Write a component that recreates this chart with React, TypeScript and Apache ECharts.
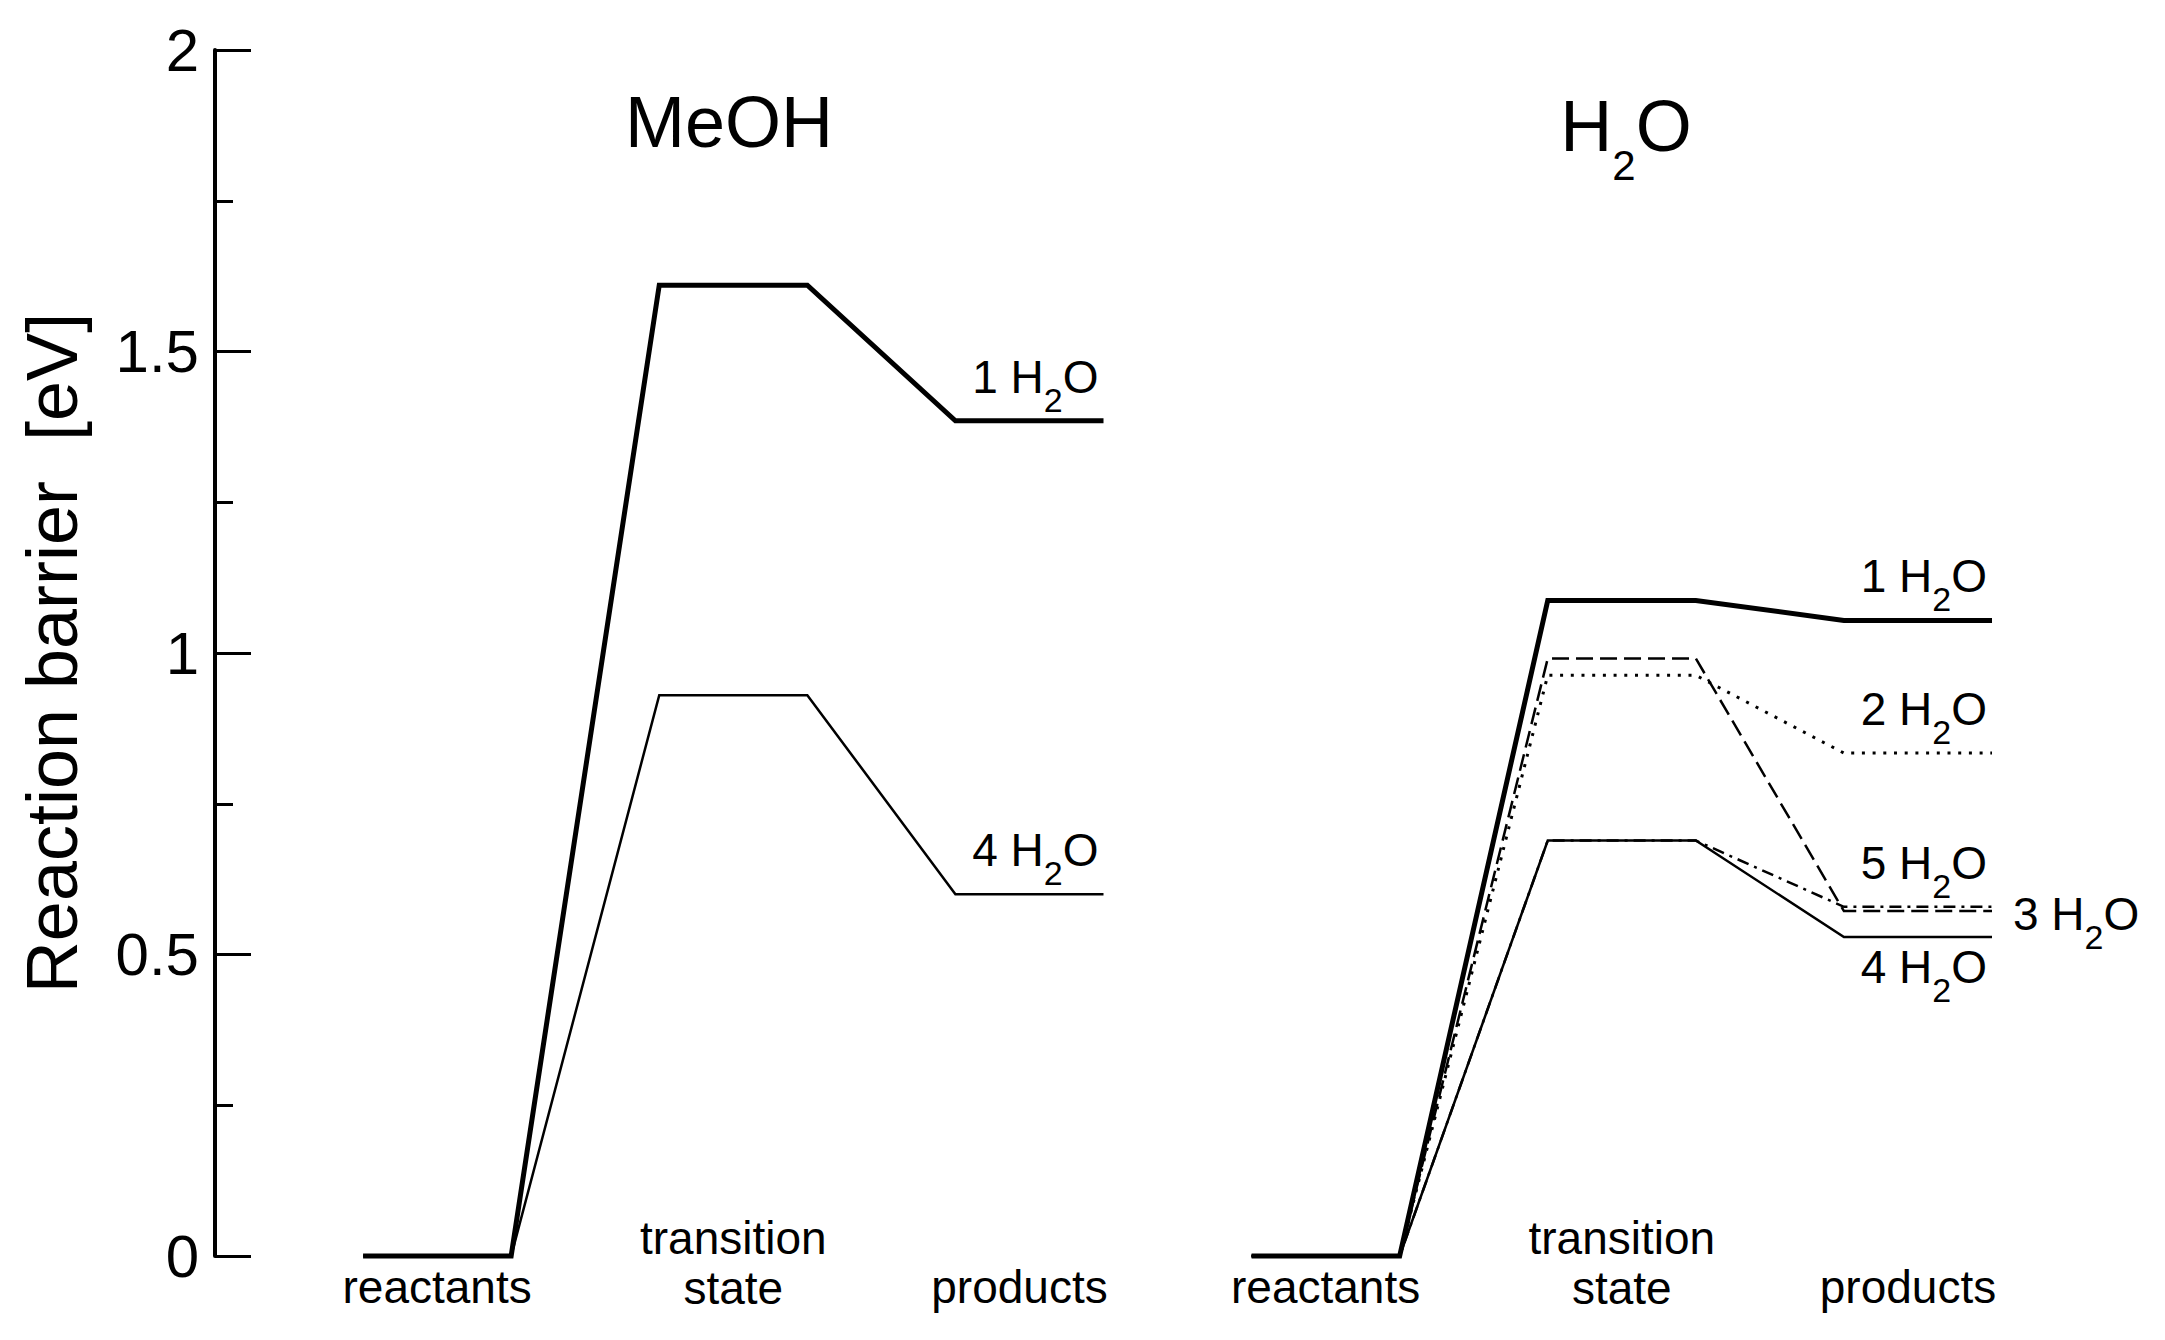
import React, { useEffect, useRef } from "react";
import * as echarts from "echarts";

const FONT = '"Liberation Sans", Arial, Helvetica, sans-serif';

// ---- data ----
const stageNames = ["reactants", "transition\nstate", "products"];
const panelTitles = ["MeOH", "H2O"];
const yTicks = [0, 0.5, 1, 1.5, 2];
const yTitle = "Reaction barrier\u00a0 [eV]";

// barriers [reactants, transition state, products] in eV
const meoh1 = [0, 1.61, 1.385];
const meoh4 = [0, 0.93, 0.6];
const water1 = [0, 1.087, 1.054];
const water2 = [0, 0.963, 0.834];
const water3 = [0, 0.991, 0.572];
const water4 = [0, 0.689, 0.529];
const water5 = [0, 0.689, 0.579];

// each stage level occupies one x-unit, separated by one unit; the right panel starts at 6
const panelOffsets = [0, 6];

function profile(values: number[], panel: number): number[][] {
  const off = panelOffsets[panel];
  const pts: number[][] = [];
  values.forEach((v, i) => {
    pts.push([off + 2 * i, v]);
    pts.push([off + 2 * i + 1, v]);
  });
  return pts;
}

const seriesDefs = [
  { name: "MeOH, 4 H2O", count: "4", panel: 0, values: meoh4, width: 2.5, type: "solid" as any, place: "above" },
  { name: "MeOH, 1 H2O", count: "1", panel: 0, values: meoh1, width: 5, type: "solid" as any, place: "above" },
  { name: "H2O, 4 H2O", count: "4", panel: 1, values: water4, width: 2.5, type: "solid" as any, place: "below" },
  { name: "H2O, 5 H2O", count: "5", panel: 1, values: water5, width: 2.5, type: [12, 6, 3, 6], place: "above" },
  { name: "H2O, 3 H2O", count: "3", panel: 1, values: water3, width: 2.5, type: [17, 7], place: "right" },
  { name: "H2O, 2 H2O", count: "2", panel: 1, values: water2, width: 3, type: [3, 7.7], place: "above" },
  { name: "H2O, 1 H2O", count: "1", panel: 1, values: water1, width: 5, type: "solid" as any, place: "above" },
];

const LABEL_MAIN = 46;
const LABEL_SUB = 34;

function h2oRich(main: number, sub: number, drop: number) {
  return {
    m: { fontSize: main, lineHeight: main, fontFamily: FONT, fill: "#000", verticalAlign: "top" },
    s: {
      fontSize: sub,
      lineHeight: sub,
      fontFamily: FONT,
      fill: "#000",
      verticalAlign: "top",
      padding: [drop, 0, 0, 0],
    },
  };
}

export default function App() {
  const ref = useRef<HTMLDivElement>(null);

  useEffect(() => {
    const chart = echarts.init(ref.current!, null, { renderer: "svg" });

    const option: any = {
      animation: false,
      backgroundColor: "#fff",
      grid: { left: 215, right: 173, top: 50, bottom: 84, containLabel: false },
      xAxis: {
        type: "value",
        min: -1,
        max: 11,
        show: false,
      },
      yAxis: {
        type: "value",
        min: yTicks[0],
        max: yTicks[yTicks.length - 1],
        interval: yTicks[1] - yTicks[0],
        position: "left",
        name: yTitle,
        nameLocation: "middle",
        nameRotate: 90,
        nameGap: 127,
        nameTextStyle: { fontSize: 72, fontFamily: FONT, color: "#000" },
        axisLine: { show: true, onZero: false, lineStyle: { color: "#000", width: 4 } },
        axisTick: { show: true, inside: true, length: 36, lineStyle: { color: "#000", width: 3 } },
        minorTick: { show: true, splitNumber: 2, length: 18, lineStyle: { color: "#000", width: 3 } },
        splitLine: { show: false },
        minorSplitLine: { show: false },
        axisLabel: { fontSize: 60, fontFamily: FONT, color: "#000", margin: 16 },
      },
      series: seriesDefs.map((d) => ({
        type: "line",
        name: d.name,
        data: profile(d.values, d.panel),
        showSymbol: false,
        symbol: "none",
        clip: false,
        silent: true,
        lineStyle: { color: "#000", width: d.width, type: d.type, cap: "butt", join: "miter" },
      })),
    };
    chart.setOption(option);

    const px = (x: number, y: number) => chart.convertToPixel({ gridIndex: 0 }, [x, y]) as number[];
    const graphics: any[] = [];

    // stage names under each level
    panelOffsets.forEach((off) => {
      stageNames.forEach((nm, i) => {
        const p = px(off + 2 * i + 0.5, 0);
        const twoLines = nm.indexOf("\n") >= 0;
        const dx = i === 2 ? -10 : 0;
        graphics.push({
          type: "text",
          x: p[0] + dx,
          y: twoLines ? p[1] + 7 : p[1] + 31,
          style: {
            text: nm,
            fontSize: 46,
            lineHeight: 50,
            fontFamily: FONT,
            fill: "#000",
            align: "center",
            verticalAlign: "middle",
          },
        });
      });
    });

    // panel titles
    graphics.push({
      type: "text",
      x: 729,
      y: 122,
      style: { text: panelTitles[0], fontSize: 72, fontFamily: FONT, fill: "#000", align: "center", verticalAlign: "middle" },
    });
    graphics.push({
      type: "text",
      x: 1626,
      y: 90,
      style: {
        text: "{m|H}{s|2}{m|O}",
        align: "center",
        verticalAlign: "top",
        rich: h2oRich(72, 42, 54),
      },
    });

    // water-count labels at the product ends
    seriesDefs.forEach((d) => {
      const vals = d.values;
      const end = px(panelOffsets[d.panel] + 5, vals[vals.length - 1]);
      const text = `{m|${d.count} H}{s|2}{m|O}`;
      let x = end[0] - 5;
      let baseline = end[1] - 28;
      let align = "right";
      if (d.place === "below") baseline = end[1] + 46;
      if (d.place === "right") {
        x = end[0] + 21;
        baseline = end[1] + 19;
        align = "left";
      }
      graphics.push({
        type: "text",
        x,
        y: baseline - 39,
        style: { text, align, verticalAlign: "top", rich: h2oRich(LABEL_MAIN, LABEL_SUB, 29) },
      });
    });

    chart.setOption({ graphic: graphics });

    return () => chart.dispose();
  }, []);

  return (
    <div
      ref={ref}
      style={{ position: "absolute", left: 0, top: 0, width: 2165, height: 1340 }}
    />
  );
}
